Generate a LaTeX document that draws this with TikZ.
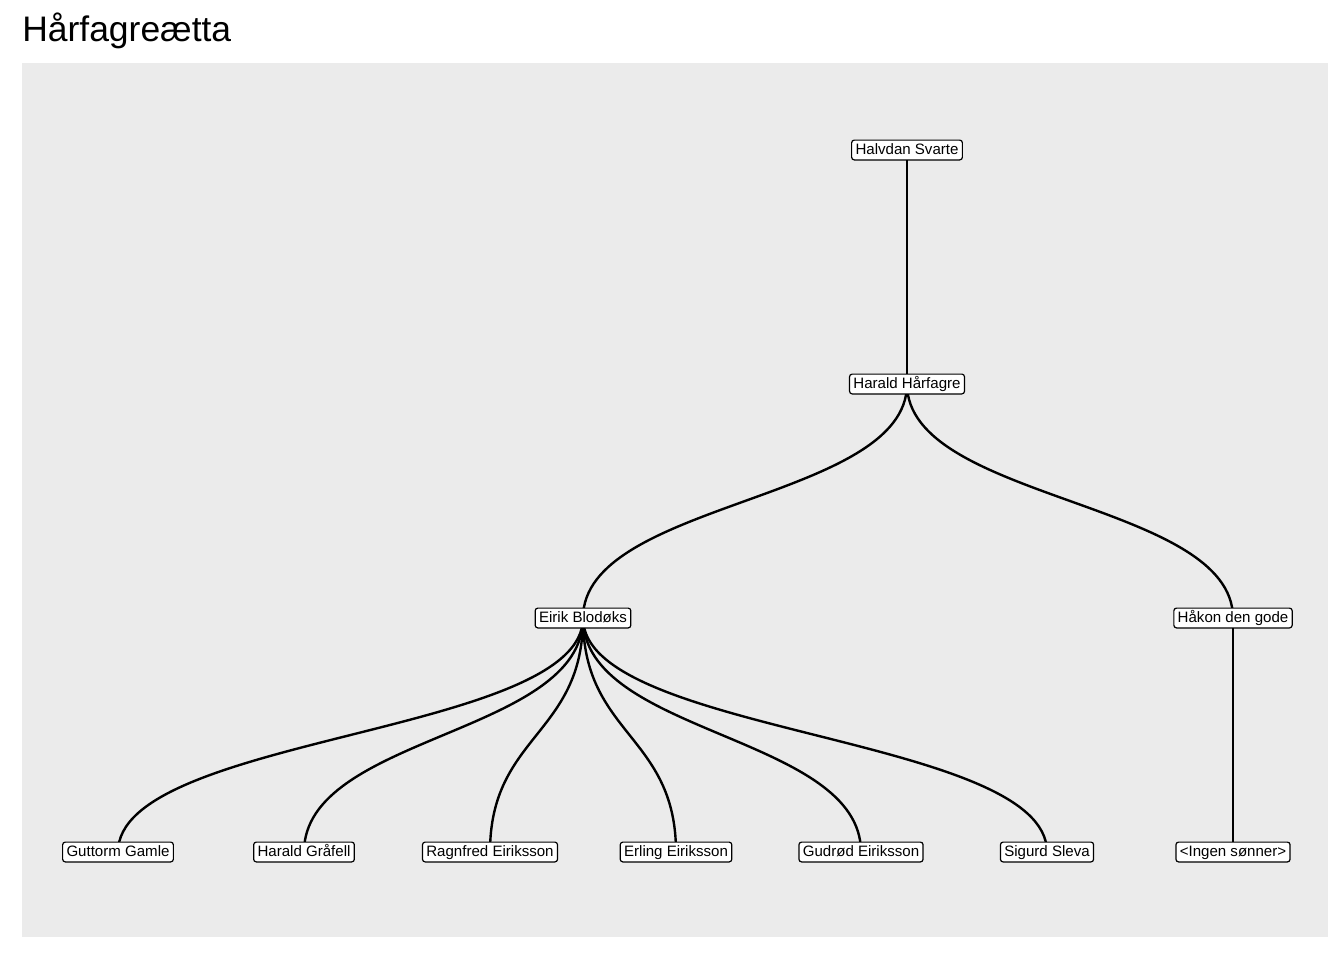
\documentclass[tikz,border=0pt]{standalone}
\usepackage{fontspec}
\setmainfont{Liberation Sans}
\definecolor{panel}{HTML}{EBEBEB}
\tikzset{
  person/.style={draw=black, fill=white, line width=0.9pt, rounded corners=2pt,
    font=\fontsize{11.3}{13}\selectfont, inner xsep=2.9pt, inner ysep=2.3pt,
    text height=8.8pt, text depth=1.45pt},
  edge/.style={line width=1.8pt, black},
}
\begin{document}
\begin{tikzpicture}[x=0.75pt, y=-0.75pt]
\useasboundingbox (0,0) rectangle (1344,960);
\fill[panel] (22,63) rectangle (1328,937);
\node[anchor=base west, inner sep=0, font=\fontsize{26.6}{30}\selectfont] (title) at (22,41.5) {Hårfagreætta};

\coordinate (pHS) at (907,150);
\coordinate (pHH) at (907,384);
\coordinate (pEB) at (583,618);
\coordinate (pHG) at (1233,618);
\coordinate (pGG) at (118,852);
\coordinate (pHGr) at (304,852);
\coordinate (pRE) at (490,852);
\coordinate (pEE) at (676,852);
\coordinate (pGE) at (861,852);
\coordinate (pSS) at (1047,852);
\coordinate (pIS) at (1233,852);

% edges
\draw[edge] (pHS) -- (pHH);
\draw[edge] (pHH) .. controls (907,501) and (583,501) .. (pEB);
\draw[edge] (pHH) .. controls (907,501) and (1233,501) .. (pHG);
\foreach \c/\x in {pGG/118, pHGr/304, pRE/490, pEE/676, pGE/861, pSS/1047}{
  \draw[edge] (pEB) .. controls (583,735) and (\x,735) .. (\c);
}
\draw[edge] (pHG) -- (pIS);

% nodes
\node[person] (HS) at (pHS) {Halvdan Svarte};
\node[person] (HH) at (pHH) {Harald Hårfagre};
\node[person] (EB) at (pEB) {Eirik Blodøks};
\node[person] (HG) at (pHG) {Håkon den gode};
\node[person] (GG) at (pGG) {Guttorm Gamle};
\node[person] (HGr) at (pHGr) {Harald Gråfell};
\node[person] (RE) at (pRE) {Ragnfred Eiriksson};
\node[person] (EE) at (pEE) {Erling Eiriksson};
\node[person] (GE) at (pGE) {Gudrød Eiriksson};
\node[person] (SS) at (pSS) {Sigurd Sleva};
\node[person] (IS) at (pIS) {<Ingen sønner>};
\end{tikzpicture}
\end{document}
